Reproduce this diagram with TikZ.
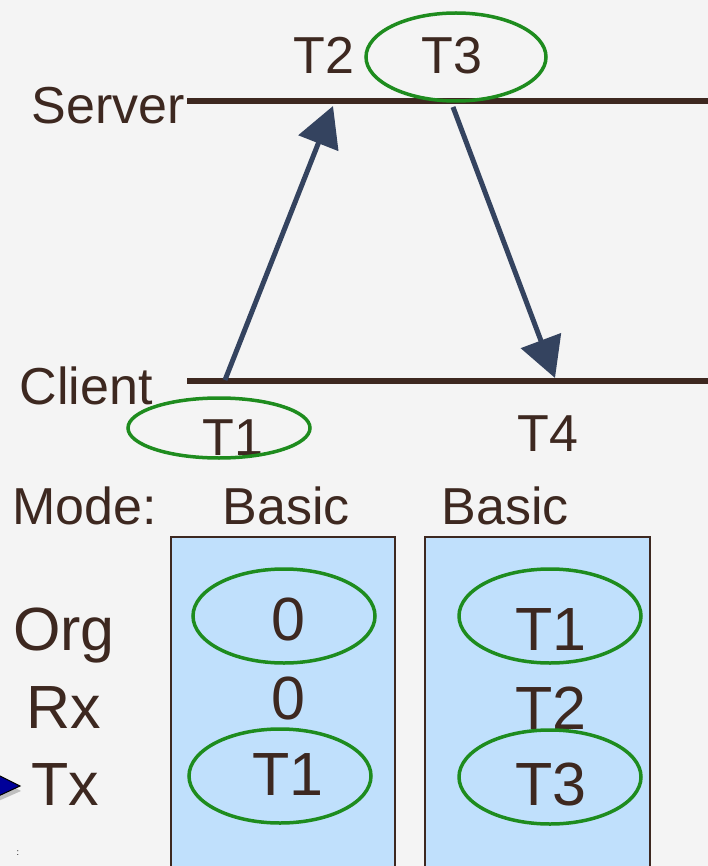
\documentclass[tikz,border=0pt]{standalone}
\usepackage{fontspec}
\setmainfont{Liberation Sans}
\usetikzlibrary{arrows.meta}
\definecolor{ink}{HTML}{3D2820}
\definecolor{msg}{HTML}{34435F}
\definecolor{mark}{HTML}{1E8C1E}
\definecolor{cell}{HTML}{C0E0FC}
\definecolor{paper}{HTML}{F4F4F4}
\tikzset{
  lbl/.style={text=ink, inner sep=0pt, anchor=base, font=\fontsize{52}{60}\selectfont},
  val/.style={text=ink, inner sep=0pt, anchor=base, font=\fontsize{61}{70}\selectfont},
  ring/.style={draw=mark, line width=3.5pt},
  timeline/.style={draw=ink, line width=6pt},
  msgarrow/.style={draw=msg, line width=5pt, -{Triangle[length=40pt,width=42pt]}},
  regbox/.style={draw=ink, line width=2pt, fill=cell}
}
\begin{document}
\begin{tikzpicture}[x=1pt,y=-1pt]
    \fill[paper] (0,0) rectangle (708,866);
    \useasboundingbox (0,0) rectangle (708,866);
    % time lines
    \draw[timeline] (187,101) -- (708,101);
    \draw[timeline] (187,381) -- (708,381);
    \node[lbl, anchor=base east] (server) at (185,124) {Server};
    \node[lbl, anchor=base east] (client) at (153,404) {Client};
    \node[lbl] (t2) at (324,74) {T2};
    \node[lbl] (t3) at (452,74) {T3};
    \node[lbl] (t1) at (233,455) {T1};
    \node[lbl] (t4) at (548,451) {T4};
    \draw[ring] (456,57) ellipse (90 and 44);
    \draw[ring] (219,428) ellipse (91 and 30);
    % messages
    \coordinate (c1) at (225,380);
    \coordinate (s1) at (333,106);
    \coordinate (s2) at (453,107);
    \coordinate (c2) at (555,378);
    \draw[msgarrow] (c1) -- (s1);
    \draw[msgarrow] (s2) -- (c2);
    % registers
    \node[lbl, anchor=base west] (mode) at (12,524) {Mode:};
    \node[lbl] (basic1) at (286,524) {Basic};
    \node[lbl] (basic2) at (505,524) {Basic};
    \draw[regbox] (171,537) rectangle (395,870);
    \draw[regbox] (425,537) rectangle (650,870);
    \node[val] (org) at (64,650) {Org};
    \node[val] (rx) at (64,728) {Rx};
    \node[val] (tx) at (65,805) {Tx};
    \foreach \n/\x/\y/\o/\r/\t in {a/288/0/0/0/T1, b/551/10/T1/T2/T3} {
        \node[val] (org\n) at (\x,640+\y) {\o};
        \node[val] (rx\n) at (\x,719+\y) {\r};
        \node[val] (tx\n) at (\x,795+\y) {\t};
    }
    \draw[ring] (284,616) ellipse (91 and 47);
    \draw[ring] (280,776) ellipse (91 and 47);
    \draw[ring] (550,616) ellipse (91 and 47);
    \draw[ring] (550,777) ellipse (91 and 47);
    % pointer
    \fill[black!25] (-4,778) -- (21,791) -- (-4,802) -- cycle;
    \filldraw[fill=blue!60!black, draw=black, line width=1pt] (-6,773) -- (20,786) -- (-6,798) -- cycle;
    \node[text=black, inner sep=0pt, font=\fontsize{9}{9}\selectfont] (dots) at (18,853) {:};
\end{tikzpicture}
\end{document}
